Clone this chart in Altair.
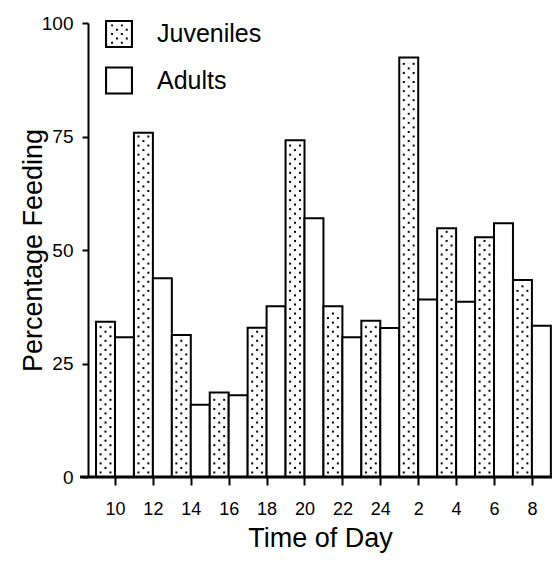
import altair as alt
import pandas as pd

# ---- data ----
times = ["10", "12", "14", "16", "18", "20", "22", "24", "2", "4", "6", "8"]
juveniles = [34.2, 75.8, 31.3, 18.6, 32.9, 74.2, 37.6, 34.4, 92.4, 54.8, 52.8, 43.4]
adults = [30.8, 43.8, 15.9, 18.0, 37.6, 57.0, 30.8, 32.8, 39.1, 38.6, 55.9, 33.3]
series = ["Juveniles", "Adults"]
y_ticks = [0, 25, 50, 75, 100]

FONT = "Liberation Sans"

rows = []
for i, t in enumerate(times):
    rows.append({"time": t, "idx": i, "series": "Juveniles", "value": juveniles[i]})
    rows.append({"time": t, "idx": i, "series": "Adults", "value": adults[i]})
df = pd.DataFrame(rows)

# stipple texture inside the juvenile bars (derived from the bar heights)
dots = []
for i, v in enumerate(juveniles):
    k = 0
    yy = 1.0
    while yy < v - 0.6:
        if k % 2 == 0:
            for fx in (0.12, 0.38):
                dots.append({"idx": i, "fx": fx, "y": yy})
        else:
            dots.append({"idx": i, "fx": 0.25, "y": yy})
        k += 1
        yy += 1.0
dots_df = pd.DataFrame(dots)


# legend symbols as custom paths: a frame (hole) with optional dots
def sq(x, y, d):
    return f"M{x:.3f},{y:.3f}h{d:.3f}v{d:.3f}h{-d:.3f}Z"


frame = "M-1,-1H1V1H-1Z M-0.85,-0.85V0.85H0.85V-0.85Z"
dot_path = ""
for r, yy in enumerate([-0.62, -0.31, 0.0, 0.31, 0.62]):
    xs = [-0.5, 0.2] if r % 2 == 0 else [-0.15, 0.55]
    for xx in xs:
        dot_path += " " + sq(xx - 0.065, yy - 0.065, 0.14)
path_j = frame + dot_path
path_a = frame

W = 464
xscale = alt.Scale(domain=[-0.712, 11.53], nice=False, zero=False)
yscale = alt.Scale(domain=[0, 100], nice=False)

label_expr = "[" + ",".join(f"'{t}'" for t in times) + "][datum.value]"

x_axis = alt.Axis(
    values=list(range(len(times))), labelExpr=label_expr, grid=False, domain=False,
    tickColor="black", tickWidth=2, tickSize=8, labelFontSize=18, labelFont=FONT,
    labelColor="black", labelPadding=15, title="Time of Day", titleFontSize=27,
    titleFont=FONT, titleFontWeight="normal", titleColor="black",
    titleY=69, titleBaseline="alphabetic",
)
y_axis = alt.Axis(
    values=y_ticks, grid=False, domainColor="black", domainWidth=2,
    tickColor="black", tickWidth=2, tickSize=6, labelFontSize=19, labelFont=FONT,
    labelColor="black", labelPadding=9, title="Percentage Feeding", titleFontSize=27,
    titleFont=FONT, titleFontWeight="normal", titleColor="black",
    titleX=-47, titleY=227, titleBaseline="alphabetic", titleAngle=270,
)

bars = alt.Chart(df).transform_calculate(
    x0="datum.idx + (datum.series === 'Juveniles' ? -0.5 : 0)",
    x1="datum.idx + (datum.series === 'Juveniles' ? 0 : 0.5)",
).mark_bar(stroke="black", strokeWidth=2, fill="white").encode(
    x=alt.X("x0:Q", scale=xscale, axis=x_axis),
    x2="x1:Q",
    y=alt.Y("value:Q", scale=yscale, axis=y_axis),
    y2=alt.datum(0),
)

stipple = alt.Chart(dots_df).transform_calculate(
    xd="datum.idx - 0.5 + datum.fx"
).mark_square(size=4, color="black", opacity=1).encode(
    x=alt.X("xd:Q", scale=xscale),
    y=alt.Y("y:Q", scale=yscale),
)

legend_layer = alt.Chart(df).mark_point(filled=True, color="black", opacity=0).encode(
    x=alt.X("idx:Q", scale=xscale),
    y=alt.Y("value:Q", scale=yscale),
    shape=alt.Shape(
        "series:N",
        scale=alt.Scale(domain=series, range=[path_j, path_a]),
        legend=alt.Legend(
            title=None, orient="none", legendX=17, legendY=-3, padding=0,
            symbolSize=784, symbolOpacity=1, symbolFillColor="black",
            symbolStrokeWidth=0, labelFontSize=25, labelFont=FONT,
            labelColor="black", labelOffset=24, rowPadding=18.5,
        ),
    ),
)

baseline = alt.Chart(pd.DataFrame({"a": [0]})).mark_rule(
    color="black", strokeWidth=3
).encode(x=alt.value(-8), x2=alt.value(W), y=alt.value(454))

chart = alt.layer(bars, stipple, legend_layer, baseline).properties(
    width=W, height=454,
    autosize=alt.AutoSizeParams(type="none"),
    padding={"left": 80, "top": 15, "right": 0, "bottom": 76},
    background="white",
).configure_view(stroke=None)

chart.save("out.html", embed_options={"renderer": "svg", "actions": False})
